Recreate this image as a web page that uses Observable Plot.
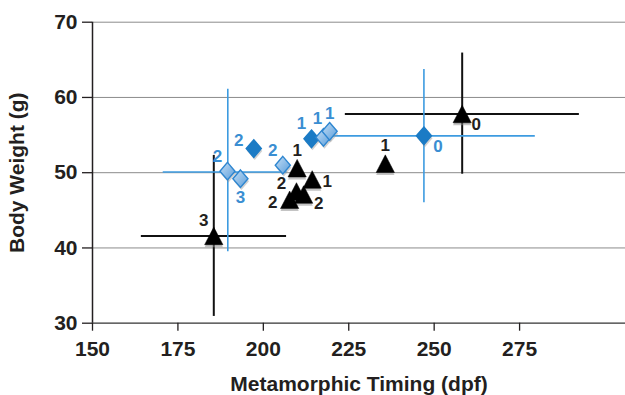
<!DOCTYPE html>
<html><head><meta charset="utf-8">
<script src="https://cdn.jsdelivr.net/npm/d3@7"></script>
<script src="https://cdn.jsdelivr.net/npm/@observablehq/plot@0.6"></script>
<style>
body{margin:0;background:#fff;}
#chart svg{display:block;}
</style>
</head><body><div id="chart"></div>
<script>
// ---- data ----
const blueTiming = [189.5, 193.3, 197.2, 205.7, 214.1, 217.6, 219.4, 247.0];
const blueWeight = [50.2, 49.2, 53.2, 51.0, 54.5, 54.7, 55.5, 54.9];
const blueLabel  = ["2", "3", "2", "2", "1", "1", "1", "0"];
const blueFilled = [false, false, true, false, true, false, false, true];
const blueLabelPos = ["nw", "s", "wnw", "nw", "nw", "nnw", "n", "se"];

const blackTiming = [185.5, 209.9, 214.3, 209.7, 207.7, 211.8, 235.7, 258.2];
const blackWeight = [41.6, 50.6, 49.1, 47.5, 46.4, 47.1, 51.2, 57.8];
const blackLabel  = ["3", "1", "1", "2", "2", "2", "1", "0"];
const blackLabelPos = ["nw", "n", "e", "wnw", "w", "ese", "n", "se"];

// error bars (centre, x range, y range)
const blueErrX  = [189.6, 247.0];
const blueErrY  = [50.1, 54.9];
const blueErrXLo = [170.7, 216.5];
const blueErrXHi = [207.0, 279.6];
const blueErrYLo = [39.5, 46.0];
const blueErrYHi = [61.1, 63.7];

const blackErrX  = [185.5, 258.2];
const blackErrY  = [41.6, 57.8];
const blackErrXLo = [164.3, 224.0];
const blackErrXHi = [206.8, 292.5];
const blackErrYLo = [30.9, 49.8];
const blackErrYHi = [52.3, 65.9];

const xTicks = [150, 175, 200, 225, 250, 275];
const yTicks = [30, 40, 50, 60, 70];
const gridLines = [40, 50, 60, 70];

// ---- tables built from arrays ----
const blue = blueTiming.map((x, i) => ({x, y: blueWeight[i], label: blueLabel[i], filled: blueFilled[i], pos: blueLabelPos[i]}));
const black = blackTiming.map((x, i) => ({x, y: blackWeight[i], label: blackLabel[i], pos: blackLabelPos[i]}));
const blueErr = blueErrX.map((x, i) => ({x, y: blueErrY[i], x1: blueErrXLo[i], x2: blueErrXHi[i], y1: blueErrYLo[i], y2: blueErrYHi[i]}));
const blackErr = blackErrX.map((x, i) => ({x, y: blackErrY[i], x1: blackErrXLo[i], x2: blackErrXHi[i], y1: blackErrYLo[i], y2: blackErrYHi[i]}));

// label placement (pixel offsets by compass code) - style
const offsets = {nw: [-10, -15], n: [0, -18], nnw: [-6, -19], s: [0, 19], wnw: [-15, -8], w: [-17, 3], e: [15, 2], ese: [15, 9], se: [14, 11]};

// custom symbols
const triangle = {draw(ctx, size) { const r = Math.sqrt(size / Math.PI); const w = r * 1.04; ctx.moveTo(0, -r); ctx.lineTo(w, r); ctx.lineTo(-w, r); ctx.closePath(); }};
const diamond = {draw(ctx, size) { const r = Math.sqrt(size / Math.PI); const w = r * 0.86; ctx.moveTo(0, -r); ctx.lineTo(w, 0); ctx.lineTo(0, r); ctx.lineTo(-w, 0); ctx.closePath(); }};

const defs = () => {
  const d = d3.create("svg:defs");
  const g = d.append("linearGradient").attr("id", "lightGrad").attr("x1", "0").attr("y1", "0").attr("x2", "1").attr("y2", "1");
  g.append("stop").attr("offset", "0%").attr("stop-color", "#c4def5");
  g.append("stop").attr("offset", "100%").attr("stop-color", "#5b9edb");
  return d.node();
};

const BLUE_LINE = "#3d9be0";
const BLUE_DARK = "#1b7bc5";
const BLUE_TEXT = "#3a8ed2";
const INK = "#231f20";

const labelMarks = (data, fill) => Object.entries(offsets).map(([code, [dx, dy]]) =>
  Plot.text(data, {filter: d => d.pos === code, x: "x", y: "y", text: "label", dx, dy, fill, fontSize: 17, fontWeight: "bold"}));

const chart = Plot.plot({
  width: 625, height: 395,
  marginLeft: 92, marginRight: 0, marginTop: 21.7, marginBottom: 72.3,
  x: {domain: [150, 306]},
  y: {domain: [30, 70]},
  style: {fontFamily: "'Liberation Sans', Arial, sans-serif", fontWeight: "bold", fontSize: "21px", color: INK, background: "white", overflow: "visible"},
  marks: [
    defs,
    Plot.ruleY(gridLines, {stroke: "#8c8c8c", strokeWidth: 1}),
    Plot.ruleY([30], {stroke: "#333", strokeWidth: 1.3}),
    Plot.axisY({ticks: yTicks, tickSize: 10, tickPadding: 5, stroke: INK, strokeWidth: 1.3, label: "Body Weight (g)", labelAnchor: "center", labelOffset: 83, labelArrow: "none"}),
    Plot.axisX({ticks: xTicks, tickSize: 8, tickPadding: 10, stroke: INK, strokeWidth: 1.3, label: "Metamorphic Timing (dpf)", labelAnchor: "center", labelOffset: 68, labelArrow: "none"}),
    Plot.ruleX([150], {y1: 30, y2: 70, stroke: INK, strokeWidth: 1.5}),
    // black error crosshairs
    Plot.ruleY(blackErr, {y: "y", x1: "x1", x2: "x2", stroke: "#111", strokeWidth: 2}),
    Plot.ruleX(blackErr, {x: "x", y1: "y1", y2: "y2", stroke: "#111", strokeWidth: 2}),
    // blue error crosshairs
    Plot.ruleY(blueErr, {y: "y", x1: "x1", x2: "x2", stroke: BLUE_LINE, strokeWidth: 1.6}),
    Plot.ruleX(blueErr, {x: "x", y1: "y1", y2: "y2", stroke: BLUE_LINE, strokeWidth: 1.6}),
    // shadows
    Plot.dot(blue, {x: "x", y: "y", symbol: diamond, r: 8.8, fill: "#9a9a9a", fillOpacity: 0.45, dx: 1, dy: 2.5}),
    Plot.dot(black, {x: "x", y: "y", symbol: triangle, r: 8.8, fill: "#8a8a8a", fillOpacity: 0.5, dy: 2.5}),
    // diamonds
    Plot.dot(blue, {x: "x", y: "y", symbol: diamond, r: 8.8, fill: d => d.filled ? BLUE_DARK : "url(#lightGrad)", stroke: d => d.filled ? BLUE_DARK : "#2e86d0", strokeWidth: 1.4}),
    // triangles
    Plot.dot(black, {x: "x", y: "y", symbol: triangle, r: 8.8, fill: "#000", stroke: "#000", strokeWidth: 0.5}),
    ...labelMarks(blue, BLUE_TEXT),
    ...labelMarks(black, INK)
  ]
});
document.getElementById("chart").append(chart);
</script>
</body></html>
